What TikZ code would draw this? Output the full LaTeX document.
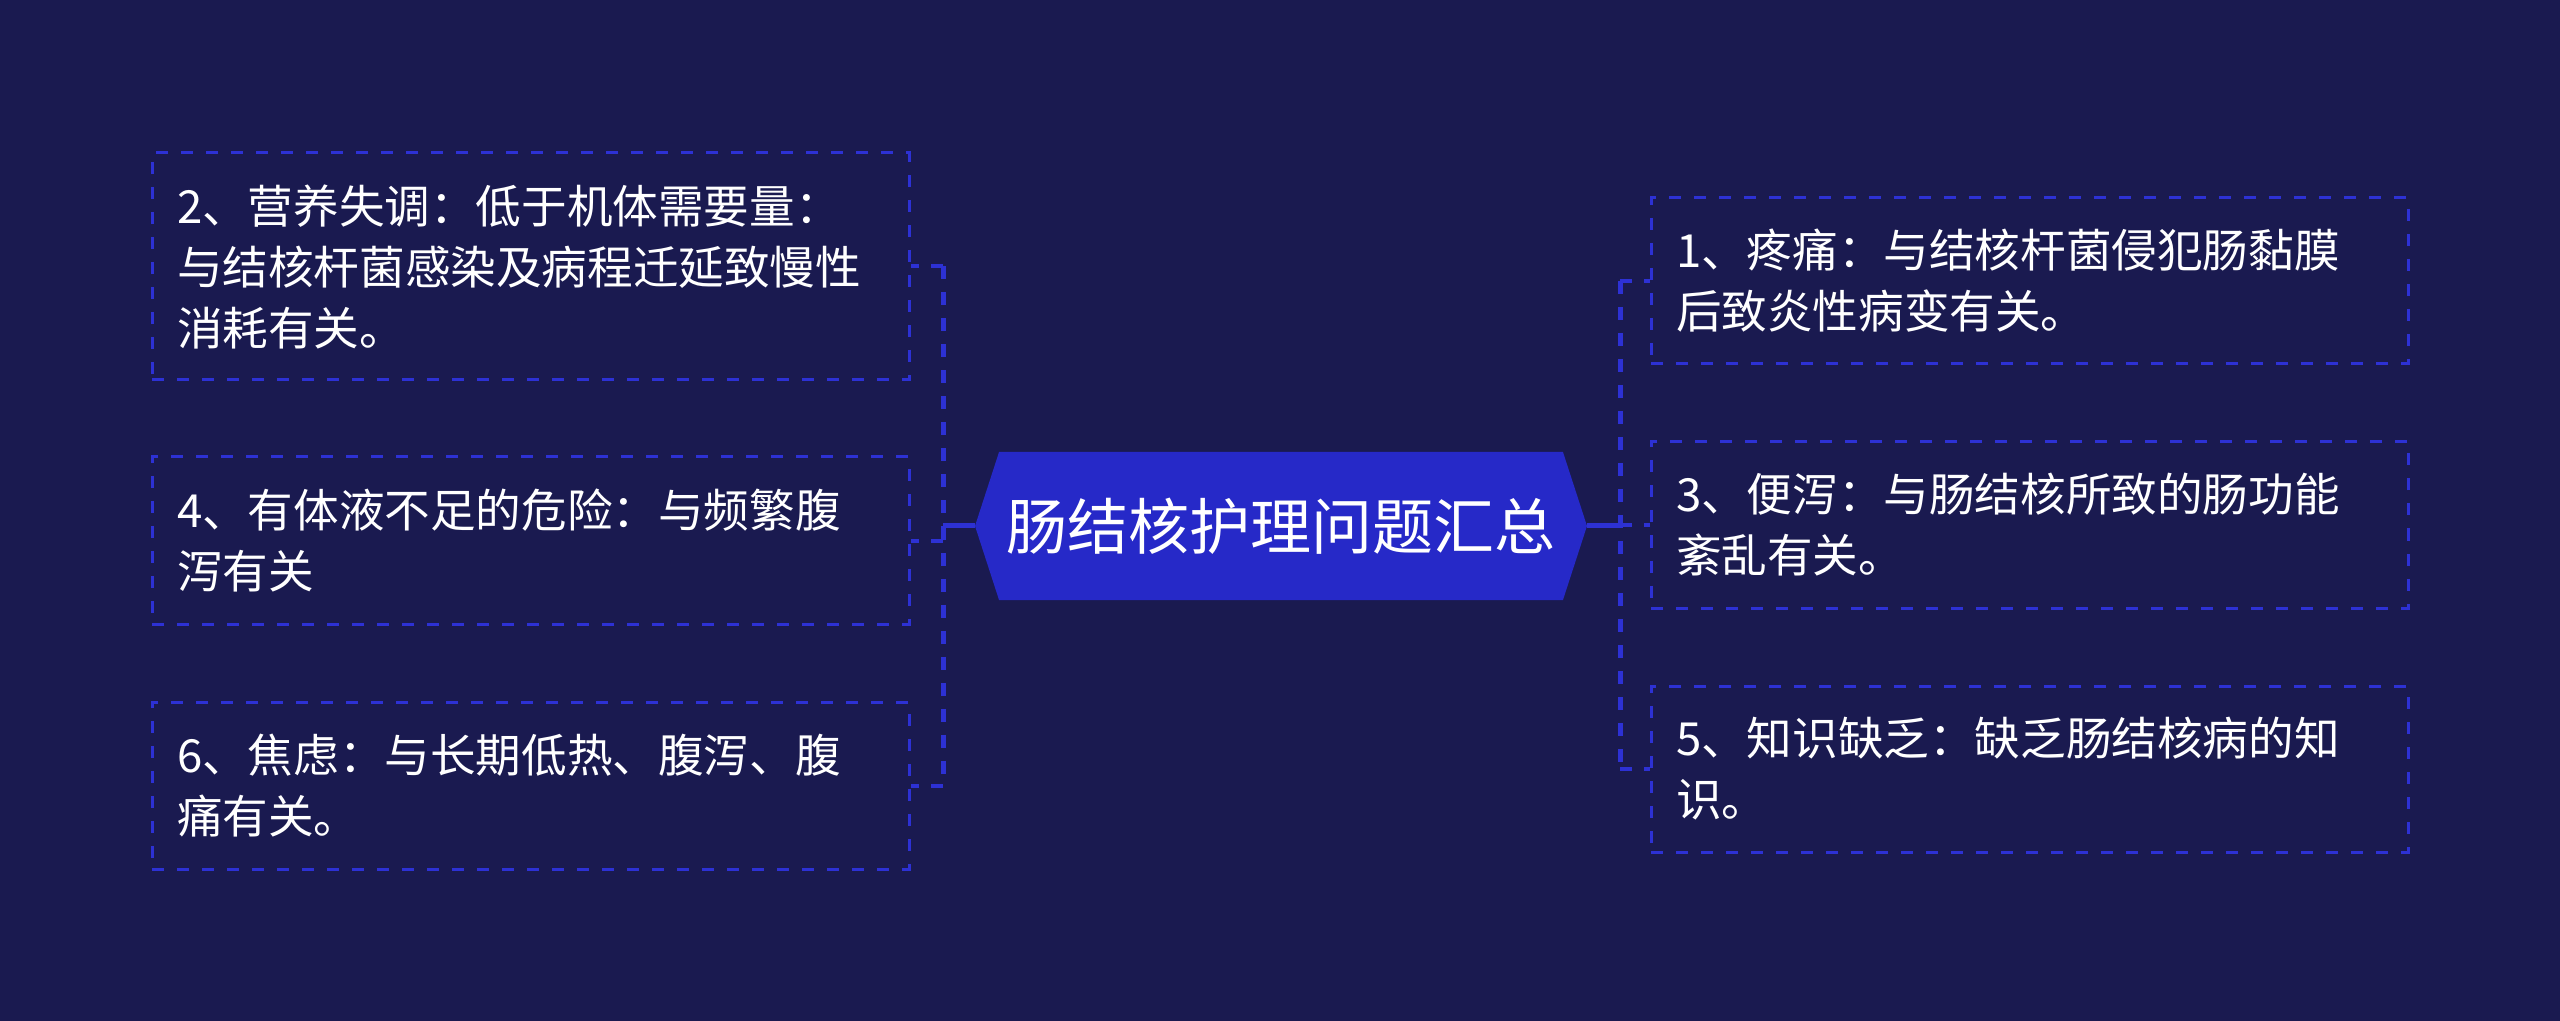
\documentclass[tikz,border=0pt]{standalone}
\usepackage{fontspec}
\setmainfont{Noto Sans CJK SC}
\usetikzlibrary{shapes.symbols}
\definecolor{bg}{RGB}{26,26,80}
\definecolor{hub}{RGB}{38,41,200}
\definecolor{ln}{RGB}{45,49,212}
\tikzset{
  boxnode/.style={draw=ln, line width=1.5pt, dash pattern=on 6pt off 6.5pt,
    minimum width=378.5pt, inner xsep=12.5pt, inner ysep=0pt, text width=353.5pt,
    align=left, text=white, font=\fontsize{22.8pt}{30.5pt}\selectfont, anchor=center},
  hubnode/.style={signal, signal to=west and east, signal pointer angle=144,
    fill=hub, draw=none, minimum width=306pt, minimum height=74pt, inner sep=0pt,
    text=white, font=\fontsize{30.5pt}{36pt}\selectfont},
  solidlink/.style={draw=ln, line width=2.5pt},
  trunk/.style={draw=ln, line width=2.5pt, dash pattern=on 6.5pt off 6.5pt},
  stub/.style={draw=ln, line width=2pt, dash pattern=on 6pt off 6pt}
}
\begin{document}
\begin{tikzpicture}[x=0.5pt, y=-0.5pt]
\fill[bg] (0,0) rectangle (2560,1021);
\useasboundingbox (0,0) rectangle (2560,1021);

\node[hubnode] (c) at (1281,526) {肠结核护理问题汇总};

\node[boxnode, minimum height=113.5pt] (b2) at (530.5,266.5) {2、营养失调：低于机体需要量：\\与结核杆菌感染及病程迁延致慢性\\消耗有关。};
\node[boxnode, minimum height=83.5pt] (b4) at (530.5,540.5) {4、有体液不足的危险：与频繁腹\\泻有关};
\node[boxnode, minimum height=83.5pt] (b6) at (530.5,785.5) {6、焦虑：与长期低热、腹泻、腹\\痛有关。};
\node[boxnode, minimum height=83pt] (b1) at (2029.5,281) {1、疼痛：与结核杆菌侵犯肠黏膜\\后致炎性病变有关。};
\node[boxnode, minimum height=83.5pt] (b3) at (2029.5,525) {3、便泻：与肠结核所致的肠功能\\紊乱有关。};
\node[boxnode, minimum height=83pt] (b5) at (2029.5,769) {5、知识缺乏：缺乏肠结核病的知\\识。};

% left connectors
\coordinate (lj) at (943,526);
\draw[solidlink] (c.west) -- (lj);
\draw[trunk] (lj |- b2.east) -- (lj |- b6.east);
\draw[stub] (lj |- b2.east) -- (b2.east);
\draw[stub] (lj |- b4.east) -- (b4.east);
\draw[stub] (lj |- b6.east) -- (b6.east);

% right connectors
\coordinate (rj) at (1620,526);
\draw[solidlink] (c.east) -- (rj);
\draw[trunk] (rj |- b1.west) -- (rj |- b5.west);
\draw[stub] (rj |- b1.west) -- (b1.west);
\draw[stub] (rj |- b3.west) -- (b3.west);
\draw[stub] (rj |- b5.west) -- (b5.west);
\end{tikzpicture}
\end{document}
